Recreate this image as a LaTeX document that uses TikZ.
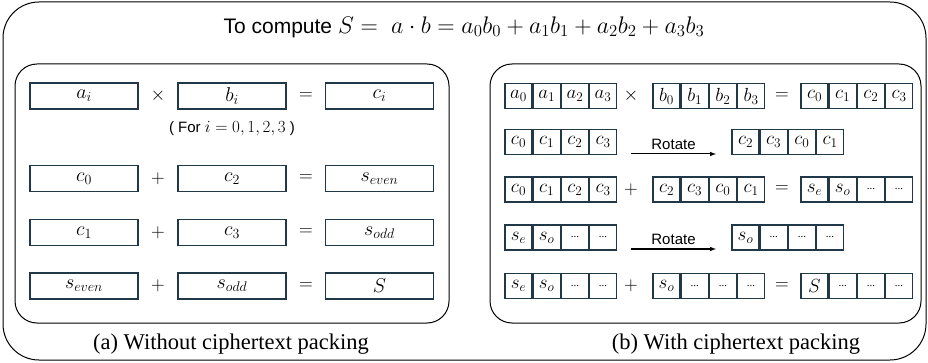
\RequirePackage{fix-cm}
\documentclass[tikz,border=0pt]{standalone}
\usepackage{amsmath}
\usepackage{fontspec}
\setmainfont{Liberation Serif}
\setsansfont{Liberation Sans}
\usepackage{xcolor}
\usetikzlibrary{arrows}
\usetikzlibrary{positioning}

\definecolor{boxline}{RGB}{32,56,72}

\begin{document}
\begin{tikzpicture}[x=1pt,y=-1pt]
	%\draw[help lines] (0,0) grid (928,363);
	\useasboundingbox (0,0) rectangle (928,363);

	\tikzstyle{frame} = [draw,line width=1pt,rounded corners=36pt]
	\tikzstyle{panel} = [draw,line width=1pt,rounded corners=22pt]
	\tikzstyle{wbox} = [draw=boxline,line width=1.2pt,minimum width=108pt,minimum height=26pt,inner sep=0pt,font=\fontsize{20}{22}\selectfont]
	\tikzstyle{cell} = [draw=boxline,line width=1.2pt,minimum width=27pt,minimum height=25pt,inner sep=0pt,font=\fontsize{19}{21}\selectfont]
	\tikzstyle{dcell} = [cell,font=\fontsize{11}{13}\selectfont]
	\tikzstyle{onode} = [inner sep=0pt,font=\fontsize{19}{21}\selectfont]
	\tikzstyle{tnode} = [inner sep=0pt,font=\sffamily\fontsize{15}{17}\selectfont]
	\tikzstyle{cnode} = [inner sep=0pt,font=\fontsize{22.5}{25}\selectfont]
	\tikzstyle{vedge} = [->,>=latex,line width=1pt]

	% frames
	\draw[frame] (3,2) rectangle (926,360);
	\draw[panel] (15,64) rectangle (449,323);
	\draw[panel] (490,64) rectangle (921,323);

	\node[tnode,font=\sffamily\fontsize{21}{24}\selectfont] (title) at (464,27) {To compute {\fontsize{24}{26}\selectfont$S =\; a\cdot b = a_0b_0 + a_1b_1 + a_2b_2 + a_3b_3$}};

	% (a) without packing
	\node[wbox] (ai) at (84,96) {$a_i$};
	\node[onode] (m1) at (158,96) {$\times$};
	\node[wbox] (bi) at (232,96) {$b_i$};
	\node[onode] (q1) at (306,96) {$=$};
	\node[wbox] (ci) at (379.5,96) {$c_i$};
	\node[tnode] (fori) at (232,129) {( For {\fontsize{17}{19}\selectfont$i = 0, 1, 2, 3$} )};

	\node[wbox] (c0) at (84,178.5) {$c_0$};
	\node[onode] (p2) at (158,178.5) {$+$};
	\node[wbox] (c2) at (232,178.5) {$c_2$};
	\node[onode] (q2) at (306,178.5) {$=$};
	\node[wbox] (se) at (379.5,178.5) {$s_{even}$};

	\node[wbox] (c1) at (84,232.5) {$c_1$};
	\node[onode] (p3) at (158,232.5) {$+$};
	\node[wbox] (c3) at (232,232.5) {$c_3$};
	\node[onode] (q3) at (306,232.5) {$=$};
	\node[wbox] (so) at (379.5,232.5) {$s_{odd}$};

	\node[wbox] (se2) at (84,286) {$s_{even}$};
	\node[onode] (p4) at (158,286) {$+$};
	\node[wbox] (so2) at (232,286) {$s_{odd}$};
	\node[onode] (q4) at (306,286) {$=$};
	\node[wbox] (S) at (379.5,286) {$S$};

	\node[cnode] (capa) at (231,344) {(a) Without ciphertext packing};

	% (b) with packing
	\node[cell] (ra0) at (518.5,96) {$a_0$};
	\node[cell,right=0pt of ra0] (ra1) {$a_1$};
	\node[cell,right=0pt of ra1] (ra2) {$a_2$};
	\node[cell,right=0pt of ra2] (ra3) {$a_3$};
	\node[onode] (rm1) at (631,96) {$\times$};
	\node[cell] (rb0) at (666.5,96) {$b_0$};
	\node[cell,right=0pt of rb0] (rb1) {$b_1$};
	\node[cell,right=0pt of rb1] (rb2) {$b_2$};
	\node[cell,right=0pt of rb2] (rb3) {$b_3$};
	\node[onode] (rq1) at (782,96) {$=$};
	\node[cell] (rc0) at (814.5,96) {$c_0$};
	\node[cell,right=0pt of rc0] (rc1) {$c_1$};
	\node[cell,right=0pt of rc1] (rc2) {$c_2$};
	\node[cell,right=0pt of rc2] (rc3) {$c_3$};

	\node[cell] (sa0) at (518.5,142) {$c_0$};
	\node[cell,right=0pt of sa0] (sa1) {$c_1$};
	\node[cell,right=0pt of sa1] (sa2) {$c_2$};
	\node[cell,right=0pt of sa2] (sa3) {$c_3$};
	\coordinate (rot1s) at (631,154);
	\coordinate (rot1e) at (716,154);
	\node[cell] (sb0) at (745.5,142) {$c_2$};
	\node[cell,right=0pt of sb0] (sb1) {$c_3$};
	\node[cell,right=0pt of sb1] (sb2) {$c_0$};
	\node[cell,right=0pt of sb2] (sb3) {$c_1$};

	\node[cell] (ta0) at (518.5,189.5) {$c_0$};
	\node[cell,right=0pt of ta0] (ta1) {$c_1$};
	\node[cell,right=0pt of ta1] (ta2) {$c_2$};
	\node[cell,right=0pt of ta2] (ta3) {$c_3$};
	\node[onode] (tp) at (631,189.5) {$+$};
	\node[cell] (tb0) at (666.5,189.5) {$c_2$};
	\node[cell,right=0pt of tb0] (tb1) {$c_3$};
	\node[cell,right=0pt of tb1] (tb2) {$c_0$};
	\node[cell,right=0pt of tb2] (tb3) {$c_1$};
	\node[onode] (tq) at (782,189.5) {$=$};
	\node[cell] (tc0) at (814.5,189.5) {$s_e$};
	\node[cell,right=0pt of tc0] (tc1) {$s_o$};
	\node[dcell,right=0pt of tc1] (tc2) {...};
	\node[dcell,right=0pt of tc2] (tc3) {...};

	\node[cell] (ua0) at (518.5,237.5) {$s_e$};
	\node[cell,right=0pt of ua0] (ua1) {$s_o$};
	\node[dcell,right=0pt of ua1] (ua2) {...};
	\node[dcell,right=0pt of ua2] (ua3) {...};
	\coordinate (rot2s) at (631,249);
	\coordinate (rot2e) at (716,249);
	\node[cell] (ub0) at (745.5,237.5) {$s_o$};
	\node[dcell,right=0pt of ub0] (ub1) {...};
	\node[dcell,right=0pt of ub1] (ub2) {...};
	\node[dcell,right=0pt of ub2] (ub3) {...};

	\node[cell] (va0) at (518.5,286) {$s_e$};
	\node[cell,right=0pt of va0] (va1) {$s_o$};
	\node[dcell,right=0pt of va1] (va2) {...};
	\node[dcell,right=0pt of va2] (va3) {...};
	\node[onode] (vp) at (631,286) {$+$};
	\node[cell] (vb0) at (666.5,286) {$s_o$};
	\node[dcell,right=0pt of vb0] (vb1) {...};
	\node[dcell,right=0pt of vb1] (vb2) {...};
	\node[dcell,right=0pt of vb2] (vb3) {...};
	\node[onode] (vq) at (782,286) {$=$};
	\node[cell] (vc0) at (814.5,286) {$S$};
	\node[dcell,right=0pt of vc0] (vc1) {...};
	\node[dcell,right=0pt of vc1] (vc2) {...};
	\node[dcell,right=0pt of vc2] (vc3) {...};

	\draw[vedge] (rot1s) -- (rot1e) node[tnode,midway,above=4pt] (rot1) {Rotate};
	\draw[vedge] (rot2s) -- (rot2e) node[tnode,midway,above=4pt] (rot2) {Rotate};

	\node[cnode] (capb) at (736,344) {(b) With ciphertext packing};

\end{tikzpicture}
\end{document}
